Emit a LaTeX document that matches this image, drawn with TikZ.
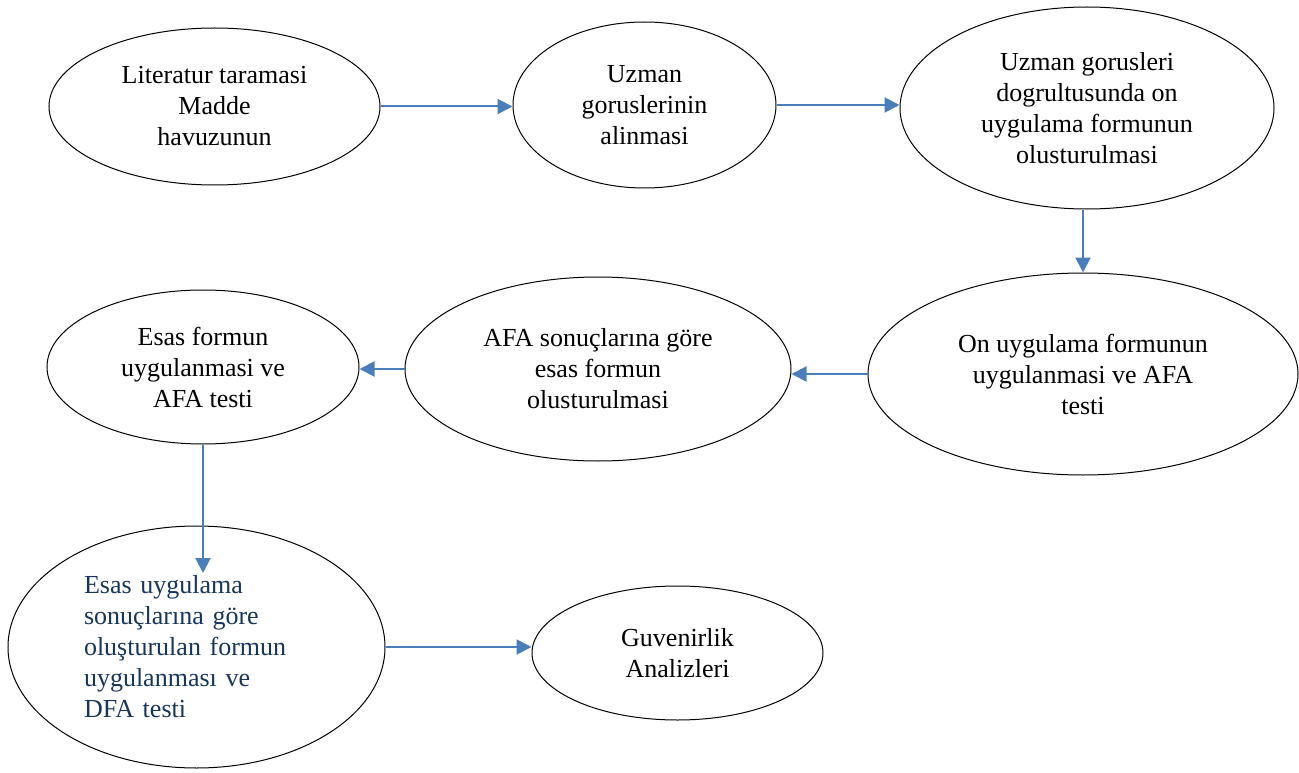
\documentclass[tikz,border=0pt]{standalone}
\usepackage{fontspec}
\setmainfont{Liberation Serif}
\usetikzlibrary{
		positioning,
		arrows.meta,
		shapes.geometric
	}
\definecolor{flowblue}{RGB}{74,126,187}
\definecolor{navytext}{RGB}{23,54,93}
\tikzset{
		>={Triangle[length=15pt,width=15pt]}
	}
\tikzset{stage/.style 2 args={ellipse, draw=black, line width=1pt, inner sep=0pt, align=center, minimum width=#1, minimum height=#2}}
\tikzset{flow/.style={->, draw=flowblue, line width=2pt}}

\begin{document}
\begin{tikzpicture}[x=1pt, y=-1pt, font=\fontsize{26}{31}\selectfont] % (one unit = one pixel of the page, y axis points down)
		\useasboundingbox (0,0) rectangle (1299,773);
		% first row
		\node[stage={331pt}{157pt}] (lit) at (214.5,106.5) {Literatur taramasi\\Madde\\havuzunun};
		\node[stage={263pt}{166pt}] (uzman) at (644.5,105) {Uzman\\goruslerinin\\alinmasi};
		\node[stage={374pt}{202pt}] (onform) at (1087,108) {Uzman gorusleri\\dogrultusunda on\\uygulama formunun\\olusturulmasi};
		% second row
		\node[stage={430pt}{202pt}] (onuyg) at (1083,374) {On uygulama formunun\\uygulanmasi ve AFA\\testi};
		\node[stage={386pt}{184pt}] (esasform) at (598,369) {AFA sonuçlarına göre\\esas formun\\olusturulmasi};
		\node[stage={312pt}{154pt}] (esasuyg) at (203,367) {Esas formun\\uygulanmasi ve\\AFA testi};
		% third row
		\node[stage={377pt}{242pt}, align=left, text width=225pt, text=navytext] (dfa) at (196.5,647) {Esas uygulama\\sonuçlarına göre\\oluşturulan formun\\uygulanması ve\\DFA testi};
		\node[stage={291pt}{134pt}] (guven) at (677.5,653) {Guvenirlik\\Analizleri};
		\coordinate (dfatip) at (203,573); % arrow tip inside the ellipse
		% connectors
		\draw[flow] (lit.east) -- (lit.east -| uzman.west);
		\draw[flow] (uzman.east) -- (uzman.east -| onform.west);
		\draw[flow] (onuyg.north |- onform.south) -- (onuyg.north);
		\draw[flow] (onuyg.west) -- (onuyg.west -| esasform.east);
		\draw[flow] (esasform.west) -- (esasform.west -| esasuyg.east);
		\draw[flow] (esasuyg) -- (dfatip);
		\draw[flow] (dfa.east) -- (dfa.east -| guven.west);
	\end{tikzpicture}
\end{document}
